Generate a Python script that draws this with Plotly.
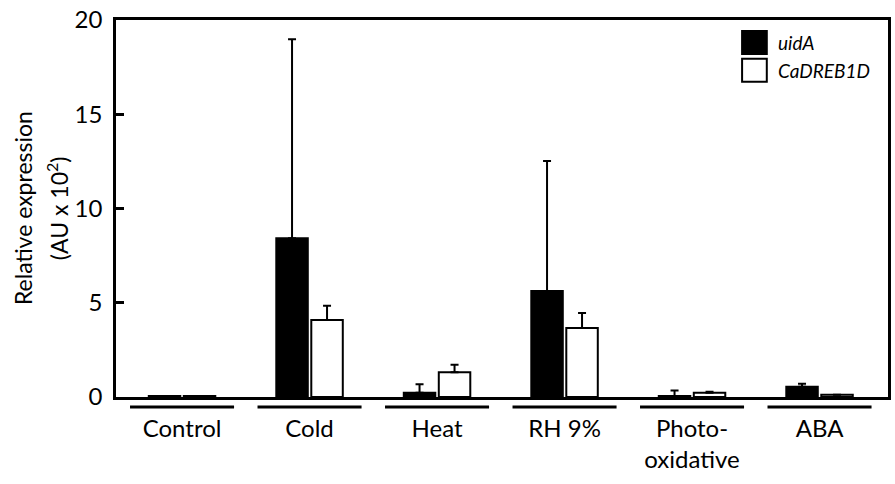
import plotly.graph_objects as go

categories = ["Control", "Cold", "Heat", "RH 9%", "Photo-<br>oxidative", "ABA"]
uidA = [0.05, 8.42, 0.23, 5.62, 0.05, 0.55]
uidA_err = [0.0, 10.56, 0.44, 6.9, 0.3, 0.15]
cadreb = [0.05, 4.08, 1.31, 3.66, 0.22, 0.12]
cadreb_err = [0.0, 0.76, 0.4, 0.8, 0.06, 0.0]
series_names = ["uidA", "CaDREB1D"]
y_ticks = [0, 5, 10, 15, 20]
y_title_lines = ["Relative expression", "(AU x 10<sup>2</sup>)"]

FONT = "Lato"
x_idx = list(range(len(categories)))

fig = go.Figure()
fig.add_trace(go.Bar(
    x=x_idx, y=uidA, name=series_names[0],
    marker=dict(color="black", line=dict(color="black", width=2)),
    error_y=dict(type="data", symmetric=False, array=uidA_err,
                 arrayminus=[0] * len(uidA), color="black", thickness=2, width=4),
    showlegend=False,
))
fig.add_trace(go.Bar(
    x=x_idx, y=cadreb, name=series_names[1],
    marker=dict(color="white", line=dict(color="black", width=2)),
    error_y=dict(type="data", symmetric=False, array=cadreb_err,
                 arrayminus=[0] * len(cadreb), color="black", thickness=2, width=4),
    showlegend=False,
))

# group underlines
shapes = []
for i in x_idx:
    shapes.append(dict(type="line", xref="x", yref="paper",
                       x0=i - 0.408, x1=i + 0.408, y0=-0.0265, y1=-0.0265,
                       line=dict(color="black", width=3)))

# legend boxes
shapes.append(dict(type="rect", xref="paper", yref="paper",
                   x0=0.811, x1=0.843, y0=0.910, y1=0.971,
                   fillcolor="black", line=dict(color="black", width=2)))
shapes.append(dict(type="rect", xref="paper", yref="paper",
                   x0=0.811, x1=0.843, y0=0.836, y1=0.897,
                   fillcolor="white", line=dict(color="black", width=2)))
annotations = [
    dict(xref="paper", yref="paper", x=0.855, y=0.940, xanchor="left", yanchor="middle",
         text="<i>%s</i>" % series_names[0], showarrow=False,
         font=dict(family=FONT, size=19, color="black")),
    dict(xref="paper", yref="paper", x=0.855, y=0.866, xanchor="left", yanchor="middle",
         text="<i>%s</i>" % series_names[1], showarrow=False,
         font=dict(family=FONT, size=19, color="black")),
    # y-axis title (two lines)
    dict(xref="paper", yref="paper", x=-0.1205, y=0.501, xanchor="center", yanchor="middle",
         text=y_title_lines[0], textangle=-90, showarrow=False,
         font=dict(family=FONT, size=23, color="black")),
    dict(xref="paper", yref="paper", x=-0.0764, y=0.501, xanchor="center", yanchor="middle",
         text=y_title_lines[1], textangle=-90, showarrow=False,
         font=dict(family=FONT, size=23, color="black")),
]

fig.update_layout(
    width=895, height=484,
    margin=dict(l=116, r=7, t=20, b=87, autoexpand=False),
    plot_bgcolor="white", paper_bgcolor="white",
    barmode="group", bargap=0.451, bargroupgap=0.1,
    shapes=shapes, annotations=annotations,
    font=dict(family=FONT, size=24, color="black"),
    xaxis=dict(
        range=[-0.518, 5.537], tickmode="array", tickvals=x_idx, ticktext=categories,
        showline=True, linecolor="black", linewidth=2.5, mirror=True,
        ticks="", showgrid=False, zeroline=False,
        tickfont=dict(family=FONT, size=24, color="black"),
        ticklabelstandoff=8, automargin=False,
    ),
    yaxis=dict(
        range=[0, 20], tickmode="array", tickvals=y_ticks,
        showline=True, linecolor="black", linewidth=2.5, mirror=True,
        ticks="inside", ticklen=8, tickwidth=2.5, tickcolor="black",
        showgrid=False, zeroline=False,
        tickfont=dict(family=FONT, size=24, color="black"),
        ticklabelstandoff=6, automargin=False,
    ),
)

fig.write_html("out.html")
